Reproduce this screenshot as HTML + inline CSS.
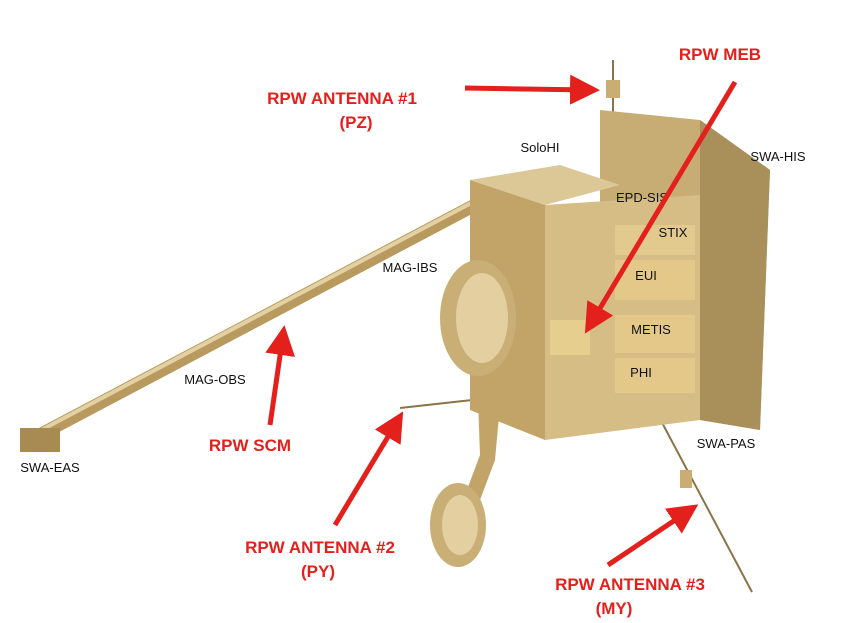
<!DOCTYPE html>
<html><head><meta charset="utf-8"><style>
html,body{margin:0;padding:0;background:#fff;}
svg{display:block}
.r{font-family:"Liberation Sans",sans-serif;font-weight:bold;fill:#e3201b;font-size:17px;text-anchor:middle}
.k{font-family:"Liberation Sans",sans-serif;fill:#111;font-size:13px;text-anchor:middle}
</style></head><body>
<svg width="850" height="623" viewBox="0 0 850 623" xmlns="http://www.w3.org/2000/svg">
<defs>
<marker id="ah" markerWidth="6" markerHeight="6" refX="4" refY="3" orient="auto" markerUnits="strokeWidth">
<path d="M0,0 L6,3 L0,6 z" fill="#e3201b"/></marker>
</defs>
<!-- boom -->
<line x1="30" y1="440" x2="475" y2="205" stroke="#b89a5e" stroke-width="13"/>
<line x1="30" y1="436" x2="475" y2="201" stroke="#e3d1a4" stroke-width="4"/>
<rect x="20" y="428" width="40" height="24" fill="#a88b52"/>
<!-- antennas -->
<line x1="613" y1="60" x2="613" y2="180" stroke="#8a7448" stroke-width="2"/>
<rect x="606" y="80" width="14" height="18" fill="#c9ad72"/>
<line x1="400" y1="408" x2="490" y2="398" stroke="#8a7448" stroke-width="2"/>
<line x1="650" y1="400" x2="752" y2="592" stroke="#8a7448" stroke-width="2"/>
<rect x="680" y="470" width="12" height="18" fill="#c9ad72"/>
<!-- heat shield -->
<polygon points="600,110 700,120 770,170 760,430 700,420 600,410" fill="#c7ac74"/>
<polygon points="700,120 770,170 760,430 700,420" fill="#a98f5a"/>
<!-- body -->
<polygon points="470,180 560,165 620,185 545,205" fill="#dcc796"/>
<polygon points="470,180 545,205 545,440 470,410" fill="#c2a468"/>
<polygon points="545,205 700,195 700,420 545,440" fill="#d6bd85"/>
<rect x="615" y="225" width="80" height="30" fill="#e2c98e"/>
<rect x="615" y="260" width="80" height="40" fill="#e3c88a"/>
<rect x="615" y="315" width="80" height="38" fill="#e3c88a"/>
<rect x="615" y="358" width="80" height="35" fill="#e3c88a"/>
<rect x="550" y="320" width="40" height="35" fill="#e6cf8e"/>
<!-- dish -->
<ellipse cx="478" cy="318" rx="38" ry="58" fill="#c9ae76"/>
<ellipse cx="482" cy="318" rx="26" ry="45" fill="#e3cf9f"/>
<!-- arm -->
<polygon points="478,400 500,405 495,460 480,500 465,495 480,455" fill="#c2a468"/>
<ellipse cx="458" cy="525" rx="28" ry="42" fill="#c9ae76"/>
<ellipse cx="460" cy="525" rx="18" ry="30" fill="#e3cf9f"/>
<!-- black labels -->
<text class="k" x="540" y="152">SoloHI</text>
<text class="k" x="778" y="161">SWA-HIS</text>
<text class="k" x="642" y="202">EPD-SIS</text>
<text class="k" x="673" y="237">STIX</text>
<text class="k" x="646" y="280">EUI</text>
<text class="k" x="410" y="272">MAG-IBS</text>
<text class="k" x="651" y="334">METIS</text>
<text class="k" x="641" y="377">PHI</text>
<text class="k" x="215" y="384">MAG-OBS</text>
<text class="k" x="726" y="448">SWA-PAS</text>
<text class="k" x="50" y="472">SWA-EAS</text>
<!-- red labels -->
<text class="r" x="342" y="104">RPW ANTENNA #1</text>
<text class="r" x="356" y="128">(PZ)</text>
<text class="r" x="720" y="60">RPW MEB</text>
<text class="r" x="250" y="451">RPW SCM</text>
<text class="r" x="320" y="553">RPW ANTENNA #2</text>
<text class="r" x="318" y="577">(PY)</text>
<text class="r" x="630" y="590">RPW ANTENNA #3</text>
<text class="r" x="614" y="614">(MY)</text>
<!-- arrows -->
<g stroke="#e3201b" stroke-width="5" fill="none" marker-end="url(#ah)">
<line x1="465" y1="88" x2="590" y2="90"/>
<line x1="735" y1="82" x2="590" y2="325"/>
<line x1="270" y1="425" x2="283" y2="335"/>
<line x1="335" y1="525" x2="398" y2="420"/>
<line x1="608" y1="565" x2="690" y2="510"/>
</g>
</svg>
</body></html>
